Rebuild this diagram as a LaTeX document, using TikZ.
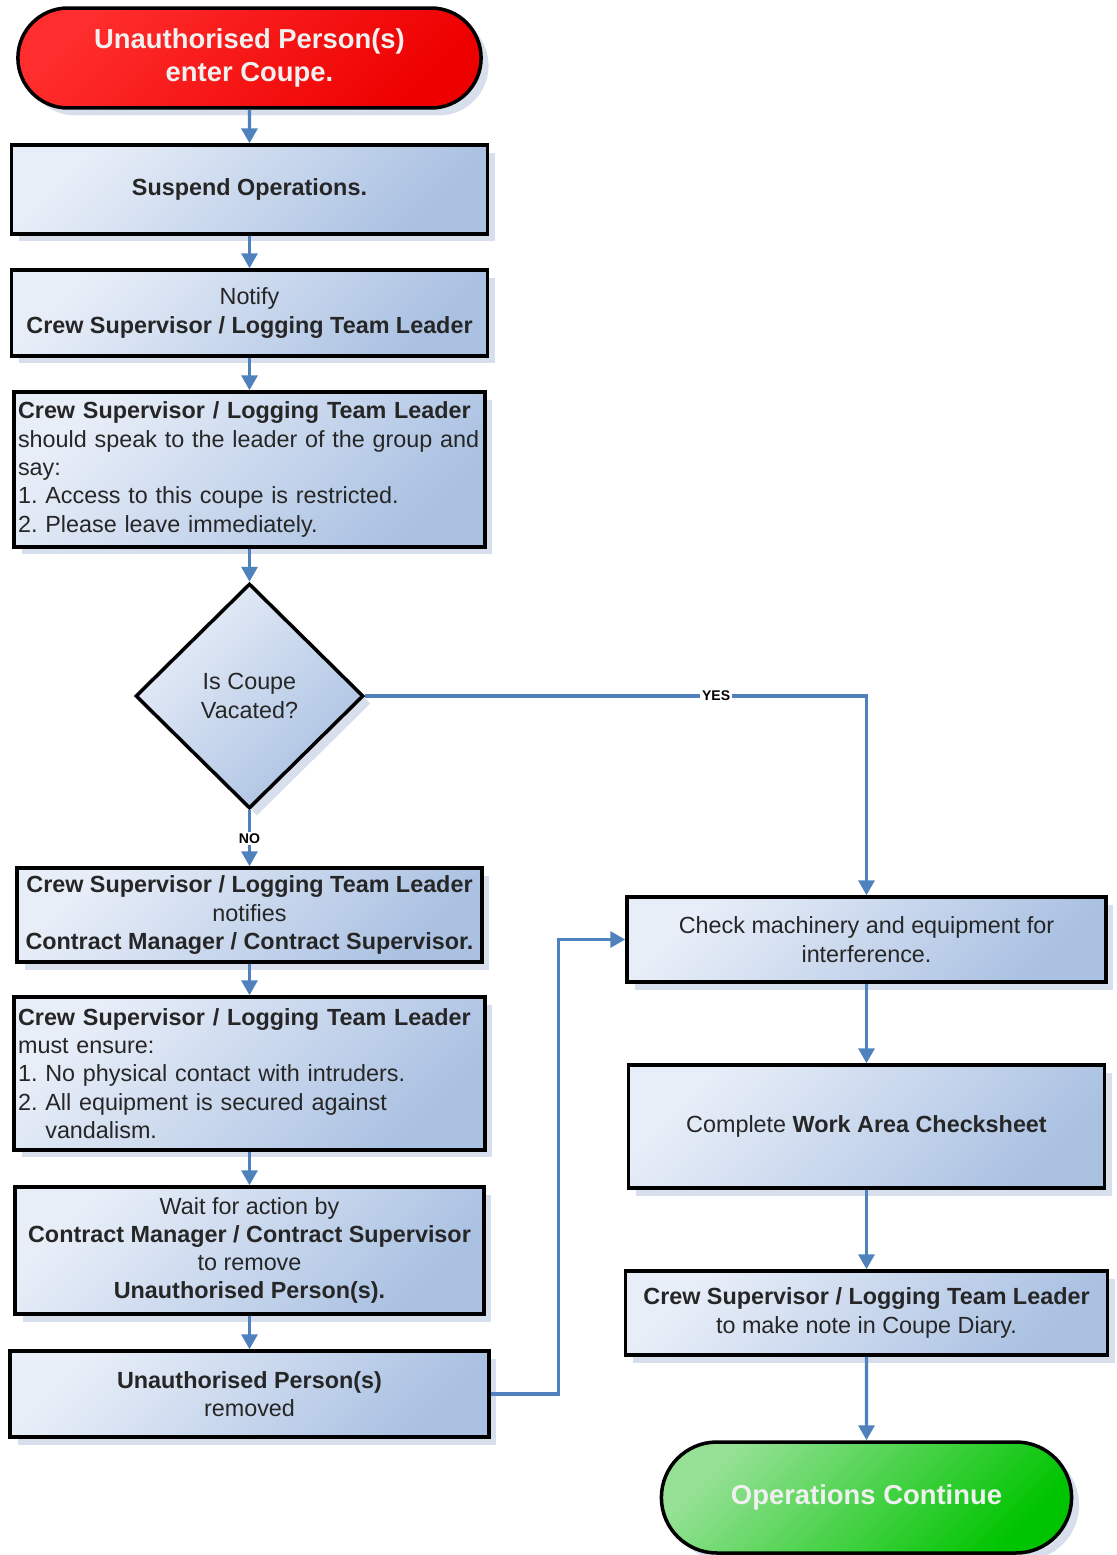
\documentclass[tikz,border=0pt]{standalone}
\usepackage{fontspec}
\setmainfont{Liberation Sans}
\usetikzlibrary{arrows.meta,shapes.geometric,shapes.misc,shadows}
\frenchspacing

\definecolor{flowblue}{RGB}{79,129,189}
\definecolor{boxlight}{RGB}{232,238,248}
\definecolor{boxdark}{RGB}{170,193,226}
\definecolor{shadowblue}{RGB}{216,223,236}
\definecolor{startlight}{RGB}{255,45,45}
\definecolor{startdark}{RGB}{238,0,0}
\definecolor{endlight}{RGB}{150,225,150}
\definecolor{enddark}{RGB}{0,196,0}

\tikzset{
        flow/.style={draw=flowblue,line width=1.9pt,-{Triangle[length=0.3cm,width=0.32cm]}},
        boxshadow/.style={drop shadow={shadow xshift=0.15cm,shadow yshift=-0.15cm,fill=shadowblue,opacity=1}},
        procbox/.style={rectangle,draw=black,line width=2pt,top color=boxlight,bottom color=boxdark,shading angle=45,boxshadow,text=black!85,inner sep=0.08cm,align=center,font=\fontsize{13.3}{16.1}\selectfont},
        leftbox/.style={procbox,text width=9.26cm,align=left},
        termbox/.style={rounded rectangle,draw=black,line width=2pt,shading angle=45,boxshadow,text=white!94!black,align=center,font=\bfseries\fontsize{15.6}{18.7}\selectfont},
        decision/.style={diamond,aspect=1,draw=black,line width=2pt,top color=boxlight,bottom color=boxdark,shading angle=45,boxshadow,text=black!85,align=center,font=\fontsize{13.3}{16.1}\selectfont},
        yesno/.style={fill=white,inner sep=1pt,text=black,font=\bfseries\fontsize{8}{9}\selectfont}
}

\begin{document}
\begin{tikzpicture}[x=0.02cm,y=-0.02cm]
        \useasboundingbox (0,0) rectangle (1116,1555);
        \node[termbox,top color=startlight,bottom color=startdark,shading angle=45,minimum width=9.5cm,minimum height=2cm] (start) at (249.5,58) {Unauthorised Person(s)\\enter Coupe.};
        \node[procbox,minimum width=9.52cm,minimum height=1.78cm] (suspend) at (249.5,189.5) {\textbf{Suspend Operations.}};
        \node[procbox,minimum width=9.52cm,minimum height=1.72cm] (notify) at (249.5,313) {Notify\\\textbf{Crew Supervisor / Logging Team Leader}};
        \node[leftbox,minimum height=3.1cm] (speak) at (249.5,469.5) {\textbf{Crew Supervisor / Logging Team Leader}\\should speak to the leader of the group and\\say:\\1. Access to this coupe is restricted.\\2. Please leave immediately.};
        \node[decision,minimum width=4.56cm,minimum height=4.5cm] (vacated) at (249.5,696) {Is Coupe\\Vacated?};
        \node[procbox,minimum width=9.3cm,minimum height=1.88cm] (notifies) at (249.5,915) {\textbf{Crew Supervisor / Logging Team Leader}\\notifies\\\textbf{Contract Manager / Contract Supervisor.}};
        \node[leftbox,minimum height=3.06cm] (ensure) at (249.5,1073.5) {\textbf{Crew Supervisor / Logging Team Leader}\\must ensure:\\1. No physical contact with intruders.\\2. All equipment is secured against\\\hphantom{2.\ }vandalism.};
        \node[procbox,minimum width=9.38cm,minimum height=2.54cm] (wait) at (249.5,1250.5) {Wait for action by\\\textbf{Contract Manager / Contract Supervisor}\\to remove\\\textbf{Unauthorised Person(s).}};
        \node[procbox,minimum width=9.58cm,minimum height=1.72cm] (removed) at (249.5,1394) {\textbf{Unauthorised Person(s)}\\removed};
        \node[procbox,minimum width=9.58cm,minimum height=1.7cm] (check) at (866.5,939.5) {Check machinery and equipment for\\interference.};
        \node[procbox,minimum width=9.52cm,minimum height=2.46cm] (complete) at (866.5,1126.5) {Complete \textbf{Work Area Checksheet}};
        \node[procbox,minimum width=9.64cm,minimum height=1.68cm] (diary) at (866.5,1313) {\textbf{Crew Supervisor / Logging Team Leader}\\to make note in Coupe Diary.};
        \node[termbox,top color=endlight,bottom color=enddark,shading angle=45,minimum width=8.44cm,minimum height=2.22cm] (finish) at (866.5,1497.5) {Operations Continue};
        \draw[flow] (start) -- (suspend);
        \draw[flow] (suspend) -- (notify);
        \draw[flow] (notify) -- (speak);
        \draw[flow] (speak) -- (vacated);
        \draw[flow] (vacated) -- node[yesno] {NO} (notifies);
        \draw[flow] (vacated.east) -| node[yesno,pos=0.35] {YES} (check);
        \draw[flow] (notifies) -- (ensure);
        \draw[flow] (ensure) -- (wait);
        \draw[flow] (wait) -- (removed);
        \draw[flow] (removed.east) -- ++(68,0) |- (check);
        \draw[flow] (check) -- (complete);
        \draw[flow] (complete) -- (diary);
        \draw[flow] (diary) -- (finish);
\end{tikzpicture}
\end{document}
